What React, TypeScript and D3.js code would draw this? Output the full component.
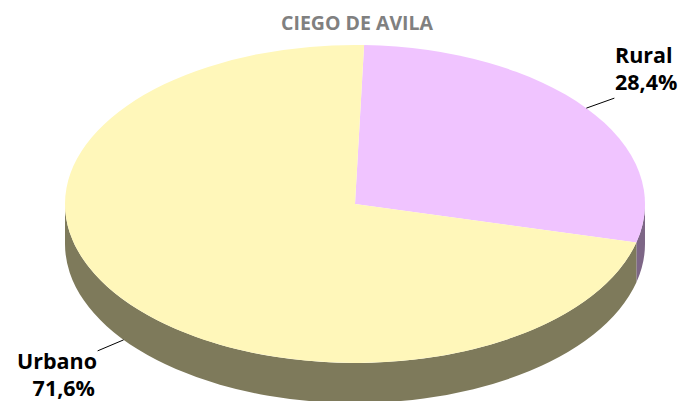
import React from "react";
import * as d3 from "d3";

const categories = ["Rural", "Urbano"];
const values = [28.4, 71.6];
const valueLabels = ["28,4%", "71,6%"];
const topColors = ["#F0C4FF", "#FFF7BA"];
const sideColors = ["#7D6686", "#7E7A5B"];
const subtitle = "CIEGO DE AVILA";

const W = 687;
const H = 401;
const cx = 355;
const cy = 204;
const rx = 290;
const ry = 159;
const depth = 40;
const startDeg = 1.8;

function pt(a: number, dz: number): [number, number] {
  return [cx + rx * Math.sin(a), cy - ry * Math.cos(a) + dz];
}

export default function App() {
  const a0 = (startDeg * Math.PI) / 180;
  const arcs = d3
    .pie<number>()
    .sort(null)
    .startAngle(a0)
    .endAngle(a0 + 2 * Math.PI)(values);

  const topPath = (s: number, e: number) => {
    const p0 = pt(s, 0);
    const p1 = pt(e, 0);
    const large = e - s > Math.PI ? 1 : 0;
    return `M${cx},${cy}L${p0[0]},${p0[1]}A${rx},${ry} 0 ${large} 1 ${p1[0]},${p1[1]}Z`;
  };

  const sidePaths = (s: number, e: number) => {
    const res: string[] = [];
    for (const k of [0, 1]) {
      const lo = Math.PI / 2 + k * 2 * Math.PI;
      const hi = (3 * Math.PI) / 2 + k * 2 * Math.PI;
      const a1 = Math.max(s, lo);
      const a2 = Math.min(e, hi);
      if (a2 > a1) {
        const p1 = pt(a1, 0);
        const p2 = pt(a2, 0);
        const p3 = pt(a2, depth);
        const p4 = pt(a1, depth);
        res.push(
          `M${p1[0]},${p1[1]}A${rx},${ry} 0 0 1 ${p2[0]},${p2[1]}L${p3[0]},${p3[1]}A${rx},${ry} 0 0 0 ${p4[0]},${p4[1]}Z`
        );
      }
    }
    return res;
  };

  const labelCfg = [
    { dx: 28, dy: -10, x: 615, y1: 63, y2: 90, anchor: "start", dz: 0 },
    { dx: -26, dy: 11, x: 97, y1: 369, y2: 396, anchor: "end", dz: depth },
  ];

  return (
    <svg
      width={W}
      height={H}
      style={{ position: "fixed", left: 0, top: 0, background: "#fff" }}
      fontFamily="'Open Sans', sans-serif"
    >
      <text
        x={357}
        y={30}
        textAnchor="middle"
        fontSize={19.5}
        fontWeight="bold"
        fill="#808080"
      >
        {subtitle}
      </text>
      {arcs.map((a, i) =>
        sidePaths(a.startAngle, a.endAngle).map((d, j) => (
          <path key={`s${i}-${j}`} d={d} fill={sideColors[i]} />
        ))
      )}
      {arcs.map((a, i) => (
        <path key={`t${i}`} d={topPath(a.startAngle, a.endAngle)} fill={topColors[i]} />
      ))}
      {arcs.map((a, i) => {
        const mid = (a.startAngle + a.endAngle) / 2;
        const c = labelCfg[i];
        const p = pt(mid, c.dz);
        return (
          <g key={`l${i}`}>
            <line
              x1={p[0]}
              y1={p[1]}
              x2={p[0] + c.dx}
              y2={p[1] + c.dy}
              stroke="#000"
              strokeWidth={1}
            />
            <text
              x={c.x}
              y={c.y1}
              textAnchor={c.anchor as any}
              fontSize={21.5}
              fontWeight="bold"
              fill="#000"
            >
              {categories[i]}
            </text>
            <text
              x={c.x - (c.anchor === "end" ? 2 : 0)}
              y={c.y2}
              textAnchor={c.anchor as any}
              fontSize={21.5}
              fontWeight="bold"
              fill="#000"
            >
              {valueLabels[i]}
            </text>
          </g>
        );
      })}
    </svg>
  );
}
